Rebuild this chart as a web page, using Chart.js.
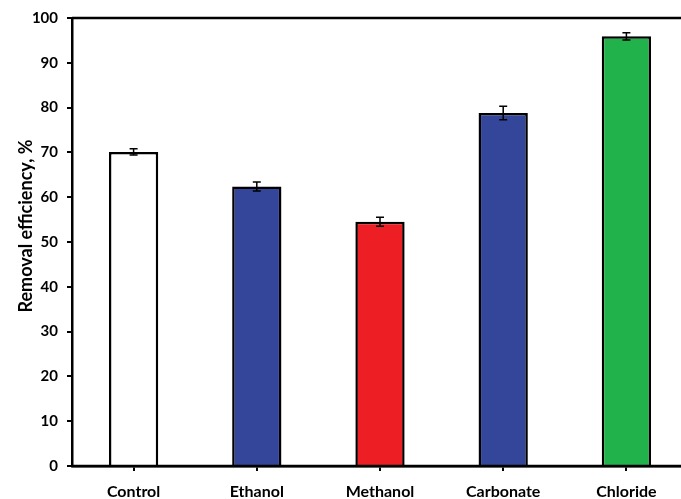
<!DOCTYPE html>
<html>
<head>
<meta charset="utf-8">
<script src="https://cdn.jsdelivr.net/npm/chart.js@4"></script>
<style>
  html, body { margin: 0; padding: 0; background: #fff; overflow: hidden; }
  #wrap { width: 690px; height: 499px; position: relative; }
</style>
</head>
<body>
<div id="wrap"><canvas id="c"></canvas></div>
<script>
// Removal efficiency by treatment
const categories = ['Control', 'Ethanol', 'Methanol', 'Carbonate', 'Chloride'];
const efficiency = [70.1, 62.4, 54.5, 78.8, 95.9];
const errors = [0.7, 1.0, 1.0, 1.5, 0.8];
const yTicks = [0, 10, 20, 30, 40, 50, 60, 70, 80, 90, 100];
const fills = ['#ffffff', '#34469a', '#ed1f24', '#34469a', '#22b24c'];
const yTitle = 'Removal efficiency, %';

const FONT = 'Lato, "Open Sans", sans-serif';

// Error bars, frame lines and the y-axis title
const extras = {
  id: 'extras',
  afterDatasetsDraw(chart) {
    const { ctx, scales: { x, y }, chartArea } = chart;
    ctx.save();
    ctx.strokeStyle = '#000';
    ctx.lineWidth = 1.5;
    efficiency.forEach((v, i) => {
      const px = x.getPixelForValue(i);
      const top = y.getPixelForValue(v + errors[i]);
      const bot = y.getPixelForValue(v - errors[i]);
      const cap = 4;
      ctx.beginPath();
      ctx.moveTo(px, top); ctx.lineTo(px, bot);
      ctx.moveTo(px - cap, top); ctx.lineTo(px + cap, top);
      ctx.moveTo(px - cap, bot); ctx.lineTo(px + cap, bot);
      ctx.stroke();
    });
    ctx.lineWidth = 2.5;
    ctx.beginPath();
    ctx.moveTo(chartArea.left, chartArea.top);
    ctx.lineTo(chartArea.right + 10, chartArea.top);
    ctx.moveTo(chartArea.left, chartArea.bottom);
    ctx.lineTo(chartArea.right + 10, chartArea.bottom);
    ctx.stroke();

    ctx.translate(26, 226);
    ctx.rotate(-Math.PI / 2);
    ctx.fillStyle = '#000';
    ctx.font = 'bold 18px ' + FONT;
    ctx.textAlign = 'center';
    ctx.textBaseline = 'middle';
    ctx.fillText(yTitle, 0, 0);
    ctx.restore();
  }
};

new Chart(document.getElementById('c'), {
  type: 'bar',
  data: {
    labels: categories,
    datasets: [{
      data: efficiency,
      backgroundColor: fills,
      borderColor: '#000',
      borderWidth: 2.5,
      borderSkipped: 'start',
      categoryPercentage: 1,
      barPercentage: 0.4
    }]
  },
  options: {
    responsive: true,
    maintainAspectRatio: false,
    animation: false,
    layout: { padding: { left: 0, right: 2, top: 14, bottom: 0 } },
    plugins: { legend: { display: false }, tooltip: { enabled: false } },
    scales: {
      x: {
        grid: { display: true, drawOnChartArea: false, offset: false, tickLength: 5, color: '#000', lineWidth: 2 },
        border: { display: true, color: '#000', width: 2.5 },
        ticks: { color: '#000', font: { family: FONT, size: 16, weight: 'bold' }, padding: 11 },
        afterFit(s) { s.height = 33; }
      },
      y: {
        min: 0, max: 100,
        afterBuildTicks(s) { s.ticks = yTicks.map(v => ({ value: v })); },
        grid: { display: true, drawOnChartArea: false, tickLength: 5, color: '#000', lineWidth: 2 },
        border: { display: true, color: '#000', width: 2.5 },
        ticks: { color: '#000', font: { family: FONT, size: 15, weight: 'bold' }, padding: 9 },
        afterFit(s) { s.width = 72; }
      }
    }
  },
  plugins: [extras]
});
</script>
</body>
</html>
